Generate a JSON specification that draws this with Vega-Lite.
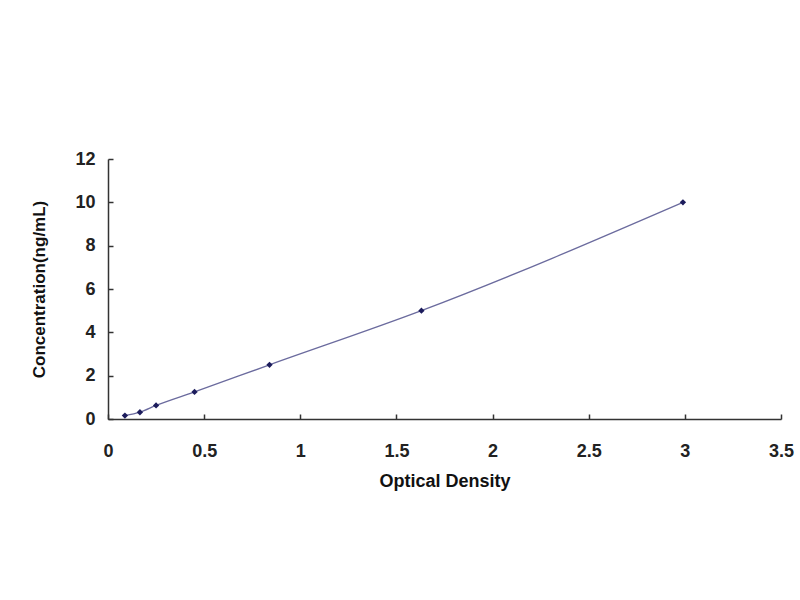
{
  "$schema": "https://vega.github.io/schema/vega-lite/v6.json",
  "width": 673,
  "height": 260,
  "autosize": {"type": "none"},
  "padding": {"left": 108, "top": 159, "right": 19, "bottom": 181},
  "background": "white",
  "config": {"view": {"stroke": null}},
  "data": {"values": [
    {"od": 0.088, "conc": 0.156},
    {"od": 0.166, "conc": 0.312},
    {"od": 0.25, "conc": 0.625},
    {"od": 0.45, "conc": 1.25},
    {"od": 0.84, "conc": 2.5},
    {"od": 1.63, "conc": 5},
    {"od": 2.99, "conc": 10}
  ]},
  "encoding": {
    "x": {"field": "od", "type": "quantitative",
      "scale": {"domain": [0, 3.5], "nice": false},
      "axis": {"title": "Optical Density", "values": [0, 0.5, 1, 1.5, 2, 2.5, 3, 3.5], "format": "~g",
        "grid": false, "domainColor": "#333", "domainWidth": 1.5, "tickColor": "#333", "tickWidth": 1.5,
        "tickSize": -5, "labelPadding": 28, "labelFont": "Liberation Sans", "labelFontWeight": "bold",
        "labelFontSize": 18, "labelColor": "#222", "titleFont": "Liberation Sans", "titleFontWeight": "bold",
        "titleFontSize": 18, "titleColor": "#111", "titlePadding": 12, "labelFlush": false}},
    "y": {"field": "conc", "type": "quantitative",
      "scale": {"domain": [0, 12], "nice": false},
      "axis": {"title": "Concentration(ng/mL)", "values": [0, 2, 4, 6, 8, 10, 12],
        "grid": false, "domainColor": "#333", "domainWidth": 1.5, "tickColor": "#333", "tickWidth": 1.5,
        "tickSize": -5, "labelPadding": 18, "labelFont": "Liberation Sans", "labelFontWeight": "bold",
        "labelFontSize": 18, "labelColor": "#222", "titleFont": "Liberation Sans", "titleFontWeight": "bold",
        "titleFontSize": 17, "titleColor": "#111", "titlePadding": 26, "labelFlush": false}}
  },
  "layer": [
    {"mark": {"type": "line", "interpolate": "monotone", "color": "#6b6b9e", "strokeWidth": 1.3}},
    {"mark": {"type": "point", "shape": "diamond", "filled": true, "size": 40, "color": "#1c1c5c", "opacity": 1}}
  ]
}
